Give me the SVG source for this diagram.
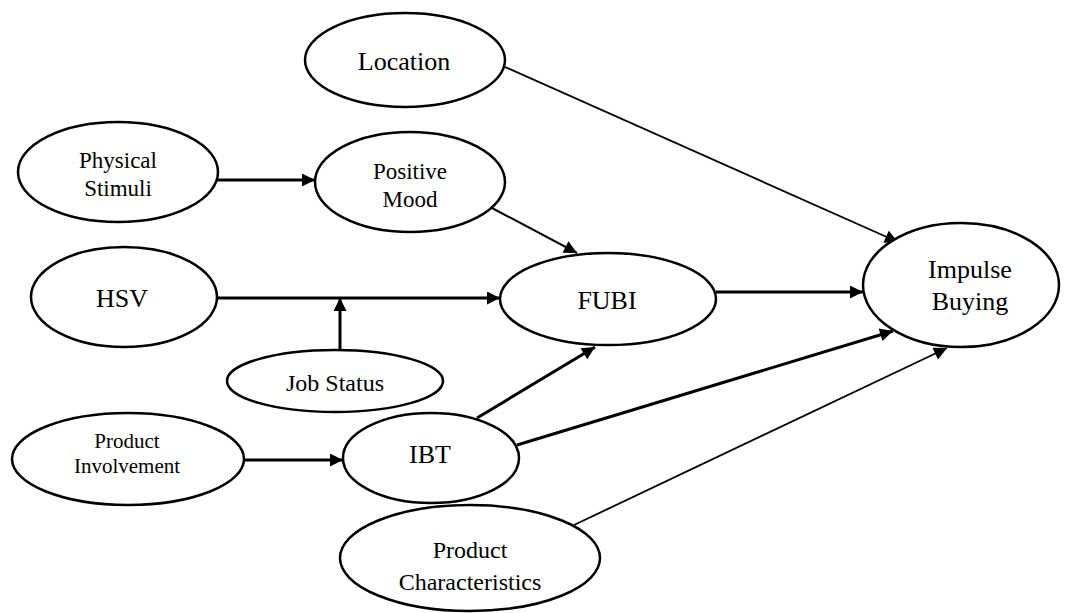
<svg xmlns="http://www.w3.org/2000/svg" width="1070" height="613" viewBox="0 0 1070 613">
<style>
.node ellipse{fill:#fff;stroke:#000;stroke-width:2.5}
.node text{font-family:"Liberation Serif","Times New Roman",serif;fill:#000;text-anchor:middle}
.big{font-size:26px}
.mid{font-size:23px}
.small{font-size:24px}
.tiny{font-size:21px}
.edge{stroke:#000;fill:none}
.thick{stroke-width:3}
.thin{stroke-width:1.8}
</style>
<defs>
<marker id="ah" viewBox="0 0 10 10" refX="10" refY="5" markerWidth="16" markerHeight="13" markerUnits="userSpaceOnUse" orient="auto">
<path d="M0,0 L10,5 L0,10 z" fill="#000"/>
</marker>
</defs>
<rect width="1070" height="613" fill="#fff"/>
<g id="connectors">
<line class="edge thin" x1="505" y1="67" x2="898" y2="242" marker-end="url(#ah)"/>
<line class="edge thick" x1="217" y1="180" x2="315" y2="180" marker-end="url(#ah)"/>
<line class="edge" stroke-width="2" x1="492" y1="208" x2="577" y2="253" marker-end="url(#ah)"/>
<line class="edge thick" x1="218" y1="298" x2="500" y2="298" marker-end="url(#ah)"/>
<line class="edge thick" x1="340" y1="350" x2="340" y2="298" marker-end="url(#ah)"/>
<line class="edge thick" x1="716" y1="292" x2="863" y2="292" marker-end="url(#ah)"/>
<line class="edge thick" x1="477" y1="418" x2="595" y2="347" marker-end="url(#ah)"/>
<line class="edge thick" x1="517" y1="445" x2="893" y2="331" marker-end="url(#ah)"/>
<line class="edge thick" x1="245" y1="460" x2="343" y2="460" marker-end="url(#ah)"/>
<line class="edge thin" x1="574" y1="525" x2="947" y2="348" marker-end="url(#ah)"/>
</g>
<g id="location" class="node">
<ellipse cx="405" cy="60" rx="100" ry="47"/>
<text class="big" x="404" y="70">Location</text>
</g>
<g id="physical-stimuli" class="node">
<ellipse cx="118" cy="172" rx="100" ry="50"/>
<text class="mid" x="118" y="168">Physical</text>
<text class="mid" x="118" y="196">Stimuli</text>
</g>
<g id="positive-mood" class="node">
<ellipse cx="410" cy="182" rx="95" ry="50"/>
<text class="mid" x="410" y="179">Positive</text>
<text class="mid" x="410" y="207">Mood</text>
</g>
<g id="hsv" class="node">
<ellipse cx="124" cy="297" rx="93" ry="50"/>
<text class="big" x="122" y="307">HSV</text>
</g>
<g id="fubi" class="node">
<ellipse cx="608" cy="299" rx="108" ry="46"/>
<text class="big" x="607" y="309">FUBI</text>
</g>
<g id="impulse-buying" class="node">
<ellipse cx="961" cy="285" rx="98" ry="62"/>
<text class="big" x="970" y="278">Impulse</text>
<text class="big" x="970" y="310">Buying</text>
</g>
<g id="job-status" class="node">
<ellipse cx="335" cy="381" rx="108" ry="31"/>
<text class="small" x="335" y="391">Job Status</text>
</g>
<g id="product-involvement" class="node">
<ellipse cx="128" cy="459" rx="116" ry="46"/>
<text class="tiny" x="127" y="448">Product</text>
<text class="tiny" x="127" y="473">Involvement</text>
</g>
<g id="ibt" class="node">
<ellipse cx="431" cy="458" rx="88" ry="45"/>
<text class="big" x="430" y="463">IBT</text>
</g>
<g id="product-characteristics" class="node">
<ellipse cx="470" cy="558" rx="130" ry="53"/>
<text class="small" x="470" y="558">Product</text>
<text class="small" x="470" y="590">Characteristics</text>
</g>
</svg>
